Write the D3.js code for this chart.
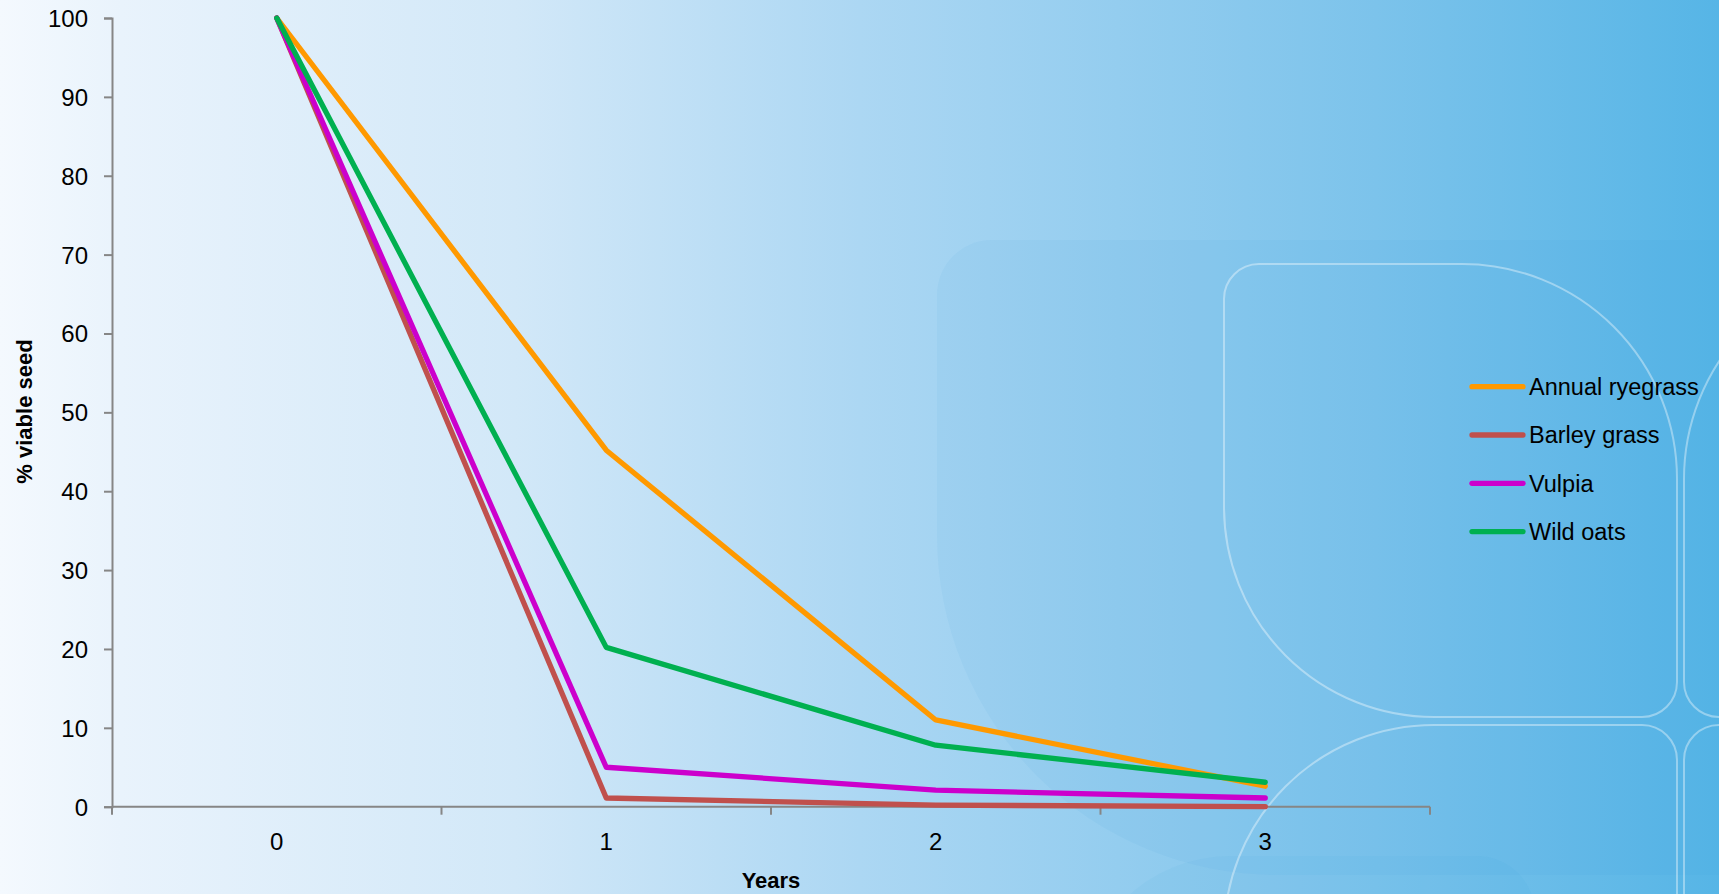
<!DOCTYPE html>
<html>
<head>
<meta charset="utf-8">
<script src="https://cdn.jsdelivr.net/npm/d3@7/dist/d3.min.js"></script>
<style>
  html, body { margin: 0; padding: 0; overflow: hidden; }
  svg { display: block; }
  text { font-family: "Liberation Sans", Arial, sans-serif; fill: #000; }
</style>
</head>
<body>
<svg id="chart" width="1719" height="894"></svg>
<script>
// ---- data ----
const years = ["0", "1", "2", "3"];
const seriesNames = ["Annual ryegrass", "Barley grass", "Vulpia", "Wild oats"];
const annualRyegrass = [100, 45.2, 11, 2.6];
const barleyGrass = [100, 1.1, 0.2, 0];
const vulpia = [100, 5, 2.1, 1.1];
const wildOats = [100, 20.2, 7.8, 3.1];
const yTicks = [0, 10, 20, 30, 40, 50, 60, 70, 80, 90, 100];
const seriesColors = ["#FF9900", "#C0504D", "#CC00CC", "#00B050"];

const seriesValues = [annualRyegrass, barleyGrass, vulpia, wildOats];

const W = 1719, H = 894;
const svg = d3.select("#chart");

// ---- background ----
const defs = svg.append("defs");
const grad = defs.append("linearGradient").attr("id", "bg").attr("x1", 0).attr("x2", 1).attr("y1", 0).attr("y2", 0);
[[0, "#f4f9fe"], [0.07, "#e9f3fc"], [0.3, "#d2e8f8"], [0.5, "#acd7f3"], [0.8, "#7cc3eb"], [1, "#56b5e6"]]
  .forEach(([o, c]) => grad.append("stop").attr("offset", o).attr("stop-color", c));
svg.append("rect").attr("width", W).attr("height", H).attr("fill", "url(#bg)");

function rr(x, y, w, h, r) {
  const [tl, tr, br, bl] = r;
  return `M${x + tl},${y}H${x + w - tr}A${tr},${tr} 0 0 1 ${x + w},${y + tr}` +
    `V${y + h - br}A${br},${br} 0 0 1 ${x + w - br},${y + h}` +
    `H${x + bl}A${bl},${bl} 0 0 1 ${x},${y + h - bl}` +
    `V${y + tl}A${tl},${tl} 0 0 1 ${x + tl},${y}Z`;
}
const deco = svg.append("g");
deco.append("path").attr("d", rr(937, 240, 900, 635, [55, 55, 55, 340]))
  .attr("fill", "rgba(40,150,215,0.055)");
deco.append("path").attr("d", rr(1080, 856, 455, 400, [150, 58, 40, 40]))
  .attr("fill", "rgba(40,150,215,0.05)");
const cells = [
  [1224, 264, [35, 215, 35, 210]],
  [1684, 264, [215, 35, 210, 35]],
  [1224, 725, [210, 35, 215, 35]],
  [1684, 725, [35, 215, 35, 210]]
];
cells.forEach(([x, y, r]) => deco.append("path").attr("d", rr(x, y, 453, 453, r))
  .attr("fill", "none").attr("stroke", "rgba(255,255,255,0.38)").attr("stroke-width", 2));

// ---- scales ----
const x = d3.scaleBand().domain(years).range([112, 1430]);
const xc = d => x(d) + x.bandwidth() / 2;
const y = d3.scaleLinear().domain([0, 100]).range([806.7, 18]);

const axisColor = "#868686";

// y axis
const yAxis = svg.append("g").attr("transform", "translate(112,0)")
  .call(d3.axisLeft(y).tickValues(yTicks).tickSize(8).tickPadding(16).tickFormat(d3.format("d")));
yAxis.select(".domain").attr("stroke", axisColor).attr("stroke-width", 2);
yAxis.selectAll(".tick line").attr("stroke", axisColor).attr("stroke-width", 2);
yAxis.selectAll(".tick text").attr("font-size", 24).attr("font-family", "Liberation Sans, Arial, sans-serif")
  .attr("fill", "#000").attr("dy", "0.35em");

// x axis (labels centered, ticks at category boundaries)
const xAxis = svg.append("g").attr("transform", "translate(0,806.7)")
  .call(d3.axisBottom(x).tickSize(0).tickPadding(0));
xAxis.select(".domain").remove();
xAxis.selectAll(".tick text").attr("font-size", 24).attr("font-family", "Liberation Sans, Arial, sans-serif")
  .attr("fill", "#000").attr("y", 43.5).attr("dy", 0);
const boundaries = years.map(d => x(d)).concat([x.range()[1]]);
svg.append("line").attr("x1", x.range()[0]).attr("x2", x.range()[1]).attr("y1", y(0)).attr("y2", y(0))
  .attr("stroke", axisColor).attr("stroke-width", 2);
svg.append("g").selectAll("line").data(boundaries).join("line")
  .attr("x1", d => d).attr("x2", d => d).attr("y1", y(0)).attr("y2", y(0) + 8)
  .attr("stroke", axisColor).attr("stroke-width", 2);

// axis titles
svg.append("text").attr("x", 771).attr("y", 888).attr("text-anchor", "middle")
  .attr("font-size", 22).attr("font-weight", "bold").text("Years");
svg.append("text").attr("transform", "translate(32,411.5) rotate(-90)").attr("text-anchor", "middle")
  .attr("font-size", 22).attr("font-weight", "bold").text("% viable seed");

// lines
const line = d3.line().x((d, i) => xc(years[i])).y(d => y(d));
seriesValues.forEach((vals, i) => {
  svg.append("path").datum(vals).attr("d", line).attr("fill", "none")
    .attr("stroke", seriesColors[i]).attr("stroke-width", 5.3)
    .attr("stroke-linejoin", "round").attr("stroke-linecap", "round");
});

// legend
const leg = svg.append("g");
seriesNames.forEach((name, i) => {
  const ly = 386.7 + i * 48.3;
  leg.append("line").attr("x1", 1472).attr("x2", 1523).attr("y1", ly).attr("y2", ly)
    .attr("stroke", seriesColors[i]).attr("stroke-width", 5.3).attr("stroke-linecap", "round");
  leg.append("text").attr("x", 1529).attr("y", ly + 8.3).attr("font-size", 23.5).text(name);
});
</script>
</body>
</html>
